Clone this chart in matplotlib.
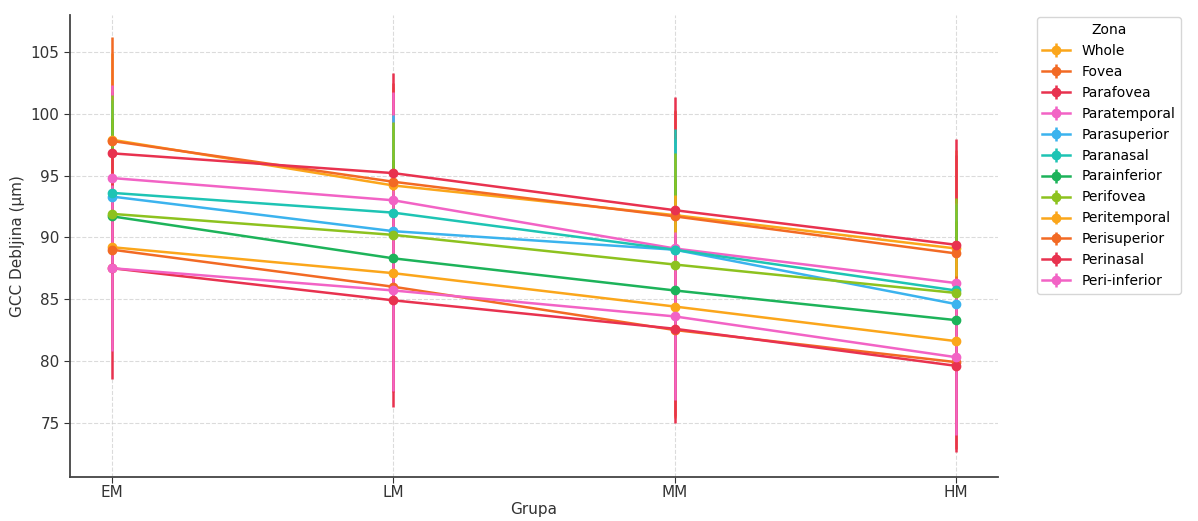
import matplotlib
matplotlib.use("Agg")
import matplotlib.pyplot as plt
import numpy as np

groups = ["EM", "LM", "MM", "HM"]
zones = ["Whole", "Fovea", "Parafovea", "Paratemporal", "Parasuperior", "Paranasal",
         "Parainferior", "Perifovea", "Peritemporal", "Perisuperior", "Perinasal", "Peri-inferior"]

whole = [97.9, 94.2, 91.8, 89.1]
fovea = [97.8, 94.5, 91.7, 88.7]
parafovea = [96.8, 95.2, 92.2, 89.4]
paratemporal = [94.8, 93.0, 89.1, 86.3]
parasuperior = [93.3, 90.5, 89.0, 84.6]
paranasal = [93.6, 92.0, 89.0, 85.7]
parainferior = [91.7, 88.3, 85.7, 83.3]
perifovea = [91.9, 90.2, 87.8, 85.5]
peritemporal = [89.2, 87.1, 84.4, 81.6]
perisuperior = [89.0, 86.0, 82.5, 79.9]
perinasal = [87.5, 84.9, 82.6, 79.6]
periinferior = [87.5, 85.7, 83.6, 80.3]

sd_whole = [7.0, 8.0, 8.5, 8.0]
sd_fovea = [8.4, 8.0, 8.5, 8.0]
sd_parafovea = [5.0, 8.1, 9.2, 8.6]
sd_paratemporal = [7.5, 8.8, 8.5, 6.5]
sd_parasuperior = [7.5, 9.4, 9.0, 7.5]
sd_paranasal = [7.5, 7.0, 9.8, 7.0]
sd_parainferior = [8.0, 8.0, 9.0, 8.0]
sd_perifovea = [9.6, 9.1, 9.0, 7.7]
sd_peritemporal = [7.5, 8.0, 9.0, 7.0]
sd_perisuperior = [8.0, 8.5, 7.0, 7.0]
sd_perinasal = [9.0, 8.6, 7.6, 7.0]
sd_periinferior = [6.7, 8.1, 6.8, 6.3]

means = [whole, fovea, parafovea, paratemporal, parasuperior, paranasal,
         parainferior, perifovea, peritemporal, perisuperior, perinasal, periinferior]
sds = [sd_whole, sd_fovea, sd_parafovea, sd_paratemporal, sd_parasuperior, sd_paranasal,
       sd_parainferior, sd_perifovea, sd_peritemporal, sd_perisuperior, sd_perinasal, sd_periinferior]

palette = ["#FBA61B", "#F26A24", "#E8324F", "#F263C5",
           "#3BB3EE", "#1EC4B4", "#1DB35A", "#8DC21F"]

fig = plt.figure(figsize=(11.98, 5.21), dpi=100)
ax = fig.add_axes([0.0584, 0.0845, 0.7746, 0.8867])

x = np.arange(len(groups))
for i, (name, m, s) in enumerate(zip(zones, means, sds)):
    c = palette[i % len(palette)]
    ax.errorbar(x, m, yerr=s, label=name, color=c, marker="o", markersize=6,
                linewidth=1.8, elinewidth=1.8, capsize=0)

ax.set_xticks(x)
ax.set_xticklabels(groups)
ax.set_xlim(-0.15, 3.15)
ax.set_ylim(70.6, 108.0)
ax.set_yticks([75, 80, 85, 90, 95, 100, 105])
ax.tick_params(labelsize=11, colors="#333333", length=4)
ax.tick_params(axis="x", pad=2)
ax.set_xlabel("Grupa", fontsize=11, color="#333333", labelpad=1)
ax.set_ylabel("GCC Debljina (µm)", fontsize=11, color="#333333")
ax.grid(True, linestyle="--", color="#cccccc", linewidth=0.8, alpha=0.7)
ax.set_axisbelow(True)
for side in ["top", "right"]:
    ax.spines[side].set_visible(False)
for side in ["left", "bottom"]:
    ax.spines[side].set_color("#444444")
    ax.spines[side].set_linewidth(1.3)

leg = ax.legend(title="Zona", loc="upper left", bbox_to_anchor=(1.042, 0.995),
                borderaxespad=0, fontsize=10, title_fontsize=10, frameon=True)
leg.get_frame().set_edgecolor("#cccccc")

fig.savefig("out.png", dpi=100)
